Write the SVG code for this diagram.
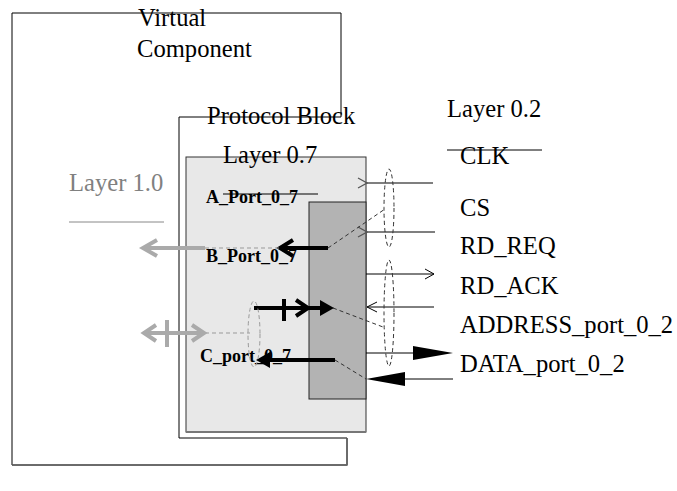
<svg xmlns="http://www.w3.org/2000/svg" width="677" height="491" viewBox="0 0 677 491">
<style>
  text { font-family: "Liberation Serif", "Times New Roman", serif; }
  .t { font-size: 24.6px; fill: #000; }
  .b { font-size: 18px; font-weight: bold; fill: #000; }
  .g { font-size: 24.6px; fill: #808080; }
  .thin { stroke: #000; stroke-width: 1; fill: none; }
  .sig { stroke: #555; stroke-width: 1.5; fill: none; }
  .dash { stroke: #333; stroke-width: 1; stroke-dasharray: 4 3; fill: none; }
  .gdash { stroke: #999; stroke-width: 1; stroke-dasharray: 4 3; fill: none; }
  .thick { stroke: #000; stroke-width: 4; fill: none; }
  .gthick { stroke: #aaa; stroke-width: 4; fill: none; }
</style>
<defs>
  <marker id="openL" markerWidth="12" markerHeight="12" refX="1" refY="6" orient="auto" markerUnits="userSpaceOnUse">
    <path d="M10,1 L1,6 L10,11" fill="none" stroke="#555" stroke-width="1.2"/>
  </marker>
  <marker id="openR" markerWidth="12" markerHeight="12" refX="11" refY="6" orient="auto" markerUnits="userSpaceOnUse">
    <path d="M2,1 L11,6 L2,11" fill="none" stroke="#000" stroke-width="1"/>
  </marker>
</defs>

<g id="virtual-component">
  <polyline points="341,117 341,13 12,13 12,465 347,465 347,438 179,438 179,117 341,117" fill="none" stroke="#000" stroke-width="1"/>
  <polyline points="12,465 347,465 347,438" fill="none" stroke="#666" stroke-width="1.5"/>
  <text class="t" x="138" y="26">Virtual</text>
  <text class="t" x="137" y="57">Component</text>
</g>

<g id="protocol-block">
  <text class="t" x="207" y="124">Protocol Block</text>
</g>

<g id="layer-0-7">
  <rect x="186" y="157" width="180" height="275" fill="#e8e8e8" stroke="#333" stroke-width="1"/>
  <polyline points="186,432 366,432" stroke="#777" stroke-width="2" fill="none"/>
  <text class="t" x="223" y="163">Layer 0.7</text>
</g>

<g id="core">
  <rect x="309" y="202" width="57" height="197" fill="#b3b3b3" stroke="#222" stroke-width="1"/>
</g>

<g id="ports">
  <text class="b" x="206" y="203">A_Port_0_7</text>
  <line x1="223" y1="194" x2="318" y2="194" class="thin"/>
  <text class="b" x="206" y="262">B_Port_0_7</text>
  <text class="b" x="200" y="362">C_port_0_7</text>
</g>

<g id="layer-1-0">
  <text class="g" x="69" y="191">Layer 1.0</text>
  <line x1="69" y1="222" x2="164" y2="222" stroke="#888" stroke-width="1"/>
</g>

<g id="layer-0-2">
  <text class="t" x="447" y="117">Layer 0.2</text>
  <text class="t" x="460" y="164">CLK</text>
  <line x1="447" y1="150" x2="542" y2="150" class="thin"/>
  <text class="t" x="460" y="216">CS</text>
  <text class="t" x="460" y="254">RD_REQ</text>
  <text class="t" x="460" y="294">RD_ACK</text>
  <text class="t" x="460" y="333">ADDRESS_port_0_2</text>
  <text class="t" x="460" y="372">DATA_port_0_2</text>
</g>

<g id="connectors">
  <line x1="433" y1="183" x2="367" y2="183" class="sig" marker-end="url(#openL)"/>
  <line x1="435" y1="232" x2="367" y2="232" class="sig" marker-end="url(#openL)"/>
  <line x1="366" y1="274" x2="434" y2="274" class="thin" marker-end="url(#openR)"/>
  <line x1="434" y1="307" x2="367" y2="307" class="thin"/>
  <path d="M377,302 L367,307 L377,312" class="thin"/>
  <line x1="366" y1="353" x2="414" y2="353" class="thin"/>
  <polygon points="413,346 453,353 413,360" fill="#000"/>
  <line x1="453" y1="379" x2="404" y2="379" class="thin"/>
  <polygon points="405,372 366,379 405,386" fill="#000"/>
  <ellipse cx="389" cy="208" rx="5" ry="39" class="dash"/>
  <ellipse cx="389" cy="313" rx="5" ry="53" class="dash"/>
  <line x1="328" y1="248" x2="385" y2="209" class="dash"/>
  <line x1="333" y1="308" x2="383" y2="327" class="dash"/>
  <line x1="335" y1="360" x2="366" y2="379" class="dash"/>
  <line x1="328" y1="248" x2="281" y2="248" class="thick"/>
  <path d="M293,240 L280,248 L293,256" class="thick"/>
  <line x1="205" y1="248" x2="279" y2="248" class="gdash"/>
  <line x1="205" y1="248" x2="143" y2="248" class="gthick"/>
  <path d="M157,240 L143,248 L157,256" class="gthick"/>
  <line x1="254" y1="308" x2="322" y2="308" class="thick"/>
  <line x1="284" y1="299" x2="284" y2="321" class="thick"/>
  <path d="M296,300 L308,308 L296,316" class="thick"/>
  <polygon points="320,300 334,308 320,316" fill="#000"/>
  <line x1="335" y1="360" x2="268" y2="360" class="thick"/>
  <polygon points="270,352 256,360 270,368" fill="#000"/>
  <ellipse cx="254" cy="334" rx="6" ry="33" class="gdash"/>
  <line x1="205" y1="333" x2="250" y2="333" class="gdash"/>
  <line x1="145" y1="333" x2="203" y2="333" class="gthick"/>
  <line x1="167" y1="320" x2="167" y2="347" class="gthick"/>
  <path d="M156,325 L144,333 L156,341" class="gthick"/>
  <path d="M192,325 L204,333 L192,341" class="gthick"/>
</g>
</svg>
